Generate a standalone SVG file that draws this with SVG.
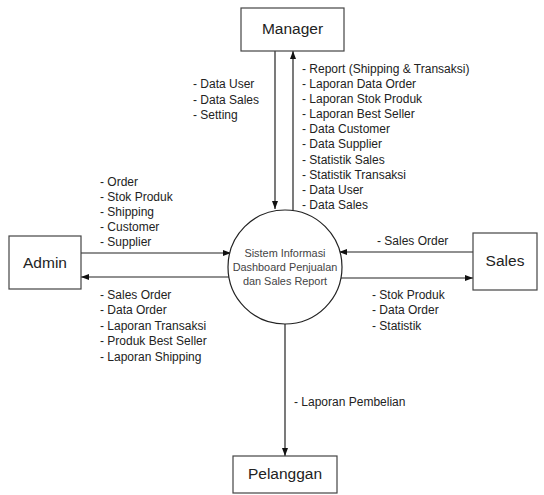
<svg xmlns="http://www.w3.org/2000/svg" width="544" height="495" viewBox="0 0 544 495">
<style>
.box{fill:#fff;stroke:#444;stroke-width:1.2}
.lbl{font-family:"Liberation Sans",Arial,sans-serif;font-size:15.5px;fill:#222;text-anchor:middle}
.t{font-family:"Liberation Sans",Arial,sans-serif;font-size:12px;fill:#222}
.c{font-family:"Liberation Sans",Arial,sans-serif;font-size:10.9px;fill:#444;text-anchor:middle}
.ln{stroke:#222;stroke-width:1.2;fill:none;marker-end:url(#ah)}
</style>
<defs>
<marker id="ah" viewBox="0 0 8 8" refX="8" refY="4" markerWidth="8" markerHeight="8" markerUnits="userSpaceOnUse" orient="auto">
<path d="M0,1 L8,4 L0,7 Z" fill="#111"/>
</marker>
</defs>
<rect width="544" height="495" fill="#fff"/>
<g id="connectors">
<line class="ln" x1="275" y1="51" x2="275" y2="209"/>
<line class="ln" x1="293" y1="212" x2="293" y2="51"/>
<line class="ln" x1="81" y1="253" x2="231" y2="253"/>
<line class="ln" x1="230" y1="277" x2="81" y2="277"/>
<line class="ln" x1="473" y1="252" x2="339" y2="252"/>
<line class="ln" x1="340" y1="278" x2="473" y2="278"/>
<line class="ln" x1="285" y1="324" x2="285" y2="456"/>
</g>
<g id="process">
<circle cx="285" cy="267" r="57" fill="#fff" stroke="#222" stroke-width="1.2"/>
<text class="c" x="285" y="257">Sistem Informasi</text>
<text class="c" x="285" y="271">Dashboard Penjualan</text>
<text class="c" x="285" y="285">dan Sales Report</text>
</g>
<g id="manager">
<rect class="box" x="241" y="8" width="103" height="43"/>
<text class="lbl" x="292.5" y="34">Manager</text>
</g>
<g id="admin">
<rect class="box" x="9" y="236" width="72" height="53"/>
<text class="lbl" x="45" y="268">Admin</text>
</g>
<g id="sales">
<rect class="box" x="473" y="233" width="64" height="57"/>
<text class="lbl" x="505" y="266">Sales</text>
</g>
<g id="pelanggan">
<rect class="box" x="233" y="456" width="104" height="37"/>
<text class="lbl" x="285" y="479">Pelanggan</text>
</g>
<g id="labels">
<text class="t" x="193" y="88">- Data User</text>
<text class="t" x="193" y="104">- Data Sales</text>
<text class="t" x="193" y="119">- Setting</text>
<text class="t" x="302" y="73">- Report (Shipping &amp; Transaksi)</text>
<text class="t" x="302" y="88">- Laporan Data Order</text>
<text class="t" x="302" y="103">- Laporan Stok Produk</text>
<text class="t" x="302" y="118">- Laporan Best Seller</text>
<text class="t" x="302" y="133">- Data Customer</text>
<text class="t" x="302" y="148">- Data Supplier</text>
<text class="t" x="302" y="164">- Statistik Sales</text>
<text class="t" x="302" y="179">- Statistik Transaksi</text>
<text class="t" x="302" y="194">- Data User</text>
<text class="t" x="302" y="209">- Data Sales</text>
<text class="t" x="100" y="186">- Order</text>
<text class="t" x="100" y="201">- Stok Produk</text>
<text class="t" x="100" y="216">- Shipping</text>
<text class="t" x="100" y="231">- Customer</text>
<text class="t" x="100" y="246">- Supplier</text>
<text class="t" x="100" y="299">- Sales Order</text>
<text class="t" x="100" y="314">- Data Order</text>
<text class="t" x="100" y="330">- Laporan Transaksi</text>
<text class="t" x="100" y="345">- Produk Best Seller</text>
<text class="t" x="100" y="361">- Laporan Shipping</text>
<text class="t" x="377" y="245">- Sales Order</text>
<text class="t" x="372" y="299">- Stok Produk</text>
<text class="t" x="372" y="314">- Data Order</text>
<text class="t" x="372" y="330">- Statistik</text>
<text class="t" x="294" y="406">- Laporan Pembelian</text>
</g>
</svg>
